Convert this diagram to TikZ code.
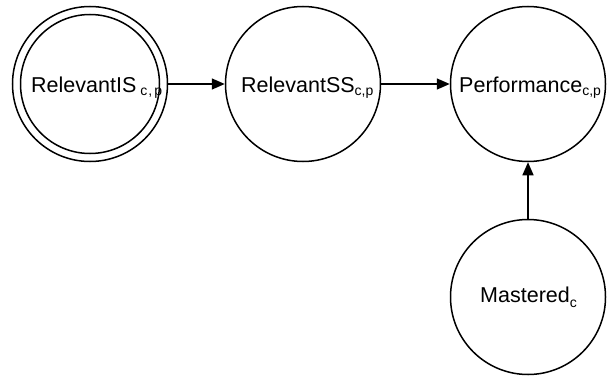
\documentclass[tikz,border=0pt]{standalone}
\usepackage{fontspec}
\setmainfont{Liberation Sans}
\usetikzlibrary{arrows.meta}
\newcommand{\subtxt}[1]{\raisebox{-3pt}{\fontsize{14}{14}\selectfont #1}}
\tikzset{
  statecirc/.style={circle, draw, line width=1.5pt, minimum size=155pt, inner sep=0pt},
  lbl/.style={anchor=base west, inner sep=0pt, font=\fontsize{21.5}{24}\selectfont},
  conn/.style={line width=1.5pt, -{Triangle[length=13pt,width=11pt]}}
}
\begin{document}
\begin{tikzpicture}[x=1pt,y=1pt]
\useasboundingbox (0,0) rectangle (607,376);
% circles
\node[statecirc] (is) at (90,292) {};
\node[statecirc, minimum size=139pt] (isinner) at (90,292) {};
\node[statecirc] (ss) at (303,292) {};
\node[statecirc] (perf) at (528,292) {};
\node[statecirc] (mast) at (528,79) {};
% labels
\node[lbl] (istxt) at (31,284) {RelevantIS\hspace{4pt}\subtxt{c\hspace{1pt},\hspace{2pt}p}};
\node[lbl] (sstxt) at (241,284) {RelevantSS\subtxt{c,p}};
\node[lbl] (perftxt) at (459,284) {Performance\subtxt{c,p}};
\node[lbl] (masttxt) at (480,74) {Mastered\raisebox{-2pt}{\subtxt{c}}};
% connectors
\draw[conn] (is) -- (ss);
\draw[conn] (ss) -- (perf);
\draw[conn] (mast) -- (perf);
\end{tikzpicture}
\end{document}
